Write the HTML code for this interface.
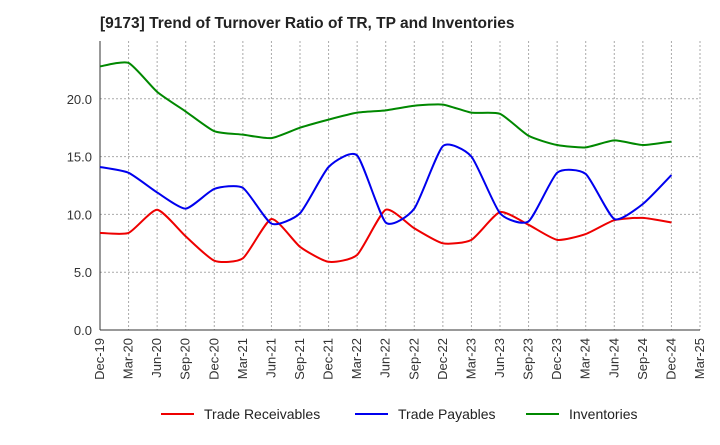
<!DOCTYPE html>
<html><head><meta charset="utf-8"><style>
body{margin:0;background:#fff;font-family:"Liberation Sans",sans-serif;}
</style></head><body>
<svg width="720" height="440" xmlns="http://www.w3.org/2000/svg" font-family="Liberation Sans, sans-serif">
<text x="100" y="28" font-size="15.5" font-weight="bold" fill="#222">[9173]  Trend of Turnover Ratio of TR, TP and Inventories</text>
<g id="grid"></g><g id="axes"></g><g id="series"></g>
<g font-size="14" fill="#222">
<line x1="161" y1="414" x2="194" y2="414" stroke="#e00" stroke-width="2"/><text x="204" y="419">Trade Receivables</text>
<line x1="355" y1="414" x2="388" y2="414" stroke="#00e" stroke-width="2"/><text x="398" y="419">Trade Payables</text>
<line x1="526" y1="414" x2="559" y2="414" stroke="#080" stroke-width="2"/><text x="569" y="419">Inventories</text>
</g>
</svg>
<script>
const categories=["Dec-19","Mar-20","Jun-20","Sep-20","Dec-20","Mar-21","Jun-21","Sep-21","Dec-21","Mar-22","Jun-22","Sep-22","Dec-22","Mar-23","Jun-23","Sep-23","Dec-23","Mar-24","Jun-24","Sep-24","Dec-24","Mar-25"];
const receivables=[8.4,8.4,10.4,8.1,6.0,6.2,9.6,7.2,5.9,6.5,10.4,8.8,7.5,7.8,10.2,9.1,7.8,8.3,9.5,9.7,9.3];
const payables=[14.1,13.6,11.9,10.5,12.2,12.3,9.2,10.1,14.1,15.1,9.3,10.5,15.9,15.0,10.1,9.4,13.6,13.5,9.6,10.9,13.4];
const inventories=[22.8,23.1,20.6,18.9,17.2,16.9,16.6,17.5,18.2,18.8,19.0,19.4,19.5,18.8,18.7,16.8,16.0,15.8,16.4,16.0,16.3];
const yTicks=[0,5,10,15,20];
const X0=100,X1=700,Y0=330,Y1=41,YMAX=25;
const x=i=>X0+(X1-X0)*i/(categories.length-1);
const y=v=>Y0-(Y0-Y1)*v/YMAX;
const NS="http://www.w3.org/2000/svg";
function mk(t,a,p){const e=document.createElementNS(NS,t);for(const k in a)e.setAttribute(k,a[k]);p.appendChild(e);return e;}
const grid=document.getElementById('grid'),axes=document.getElementById('axes'),ser=document.getElementById('series');
yTicks.forEach(v=>{
 const l=mk('line',{x1:X0,x2:X1,y1:y(v),y2:y(v),stroke:'#aaa','stroke-dasharray':'2,2','stroke-width':1},grid);
 
 
 const t=mk('text',{x:X0-8,y:y(v)+5,'text-anchor':'end','font-size':13,fill:'#333'},axes);
 t.textContent=v.toFixed(1);
 
 
});
categories.forEach((c,i)=>{
 const l=mk('line',{x1:x(i),x2:x(i),y1:Y1,y2:Y0,stroke:'#aaa','stroke-dasharray':'2,2','stroke-width':1},grid);
 
 
 const t=mk('text',{x:0,y:0,'text-anchor':'end','font-size':13,fill:'#333',transform:`translate(${x(i)+4},${Y0+8}) rotate(-90)`},axes);
 t.textContent=c;
 
 
});
const ya=mk('line',{x1:X0,x2:X0,y1:Y1,y2:Y0,stroke:'#333','stroke-width':1},axes);


const xa=mk('line',{x1:X0,x2:X1,y1:Y0,y2:Y0,stroke:'#333','stroke-width':1},axes);


function path(vals){
 const p=vals.map((v,i)=>[x(i),y(v)]);let d=`M${p[0][0]},${p[0][1]}`;const k=10;
 for(let i=0;i<p.length-1;i++){const a=p[i-1]||p[i],b=p[i],c=p[i+1],e=p[i+2]||c;
  d+=` C${b[0]+(c[0]-a[0])/k},${b[1]+(c[1]-a[1])/k} ${c[0]-(e[0]-b[0])/k},${c[1]-(e[1]-b[1])/k} ${c[0]},${c[1]}`;}
 return d;}
[[receivables,'#e00','line-trade-receivables'],[payables,'#00e','line-trade-payables'],[inventories,'#080','line-inventories']].forEach(([v,c,n])=>{
 const e=mk('path',{d:path(v),fill:'none',stroke:c,'stroke-width':2},ser);
 
 
});
</script>
</body></html>
